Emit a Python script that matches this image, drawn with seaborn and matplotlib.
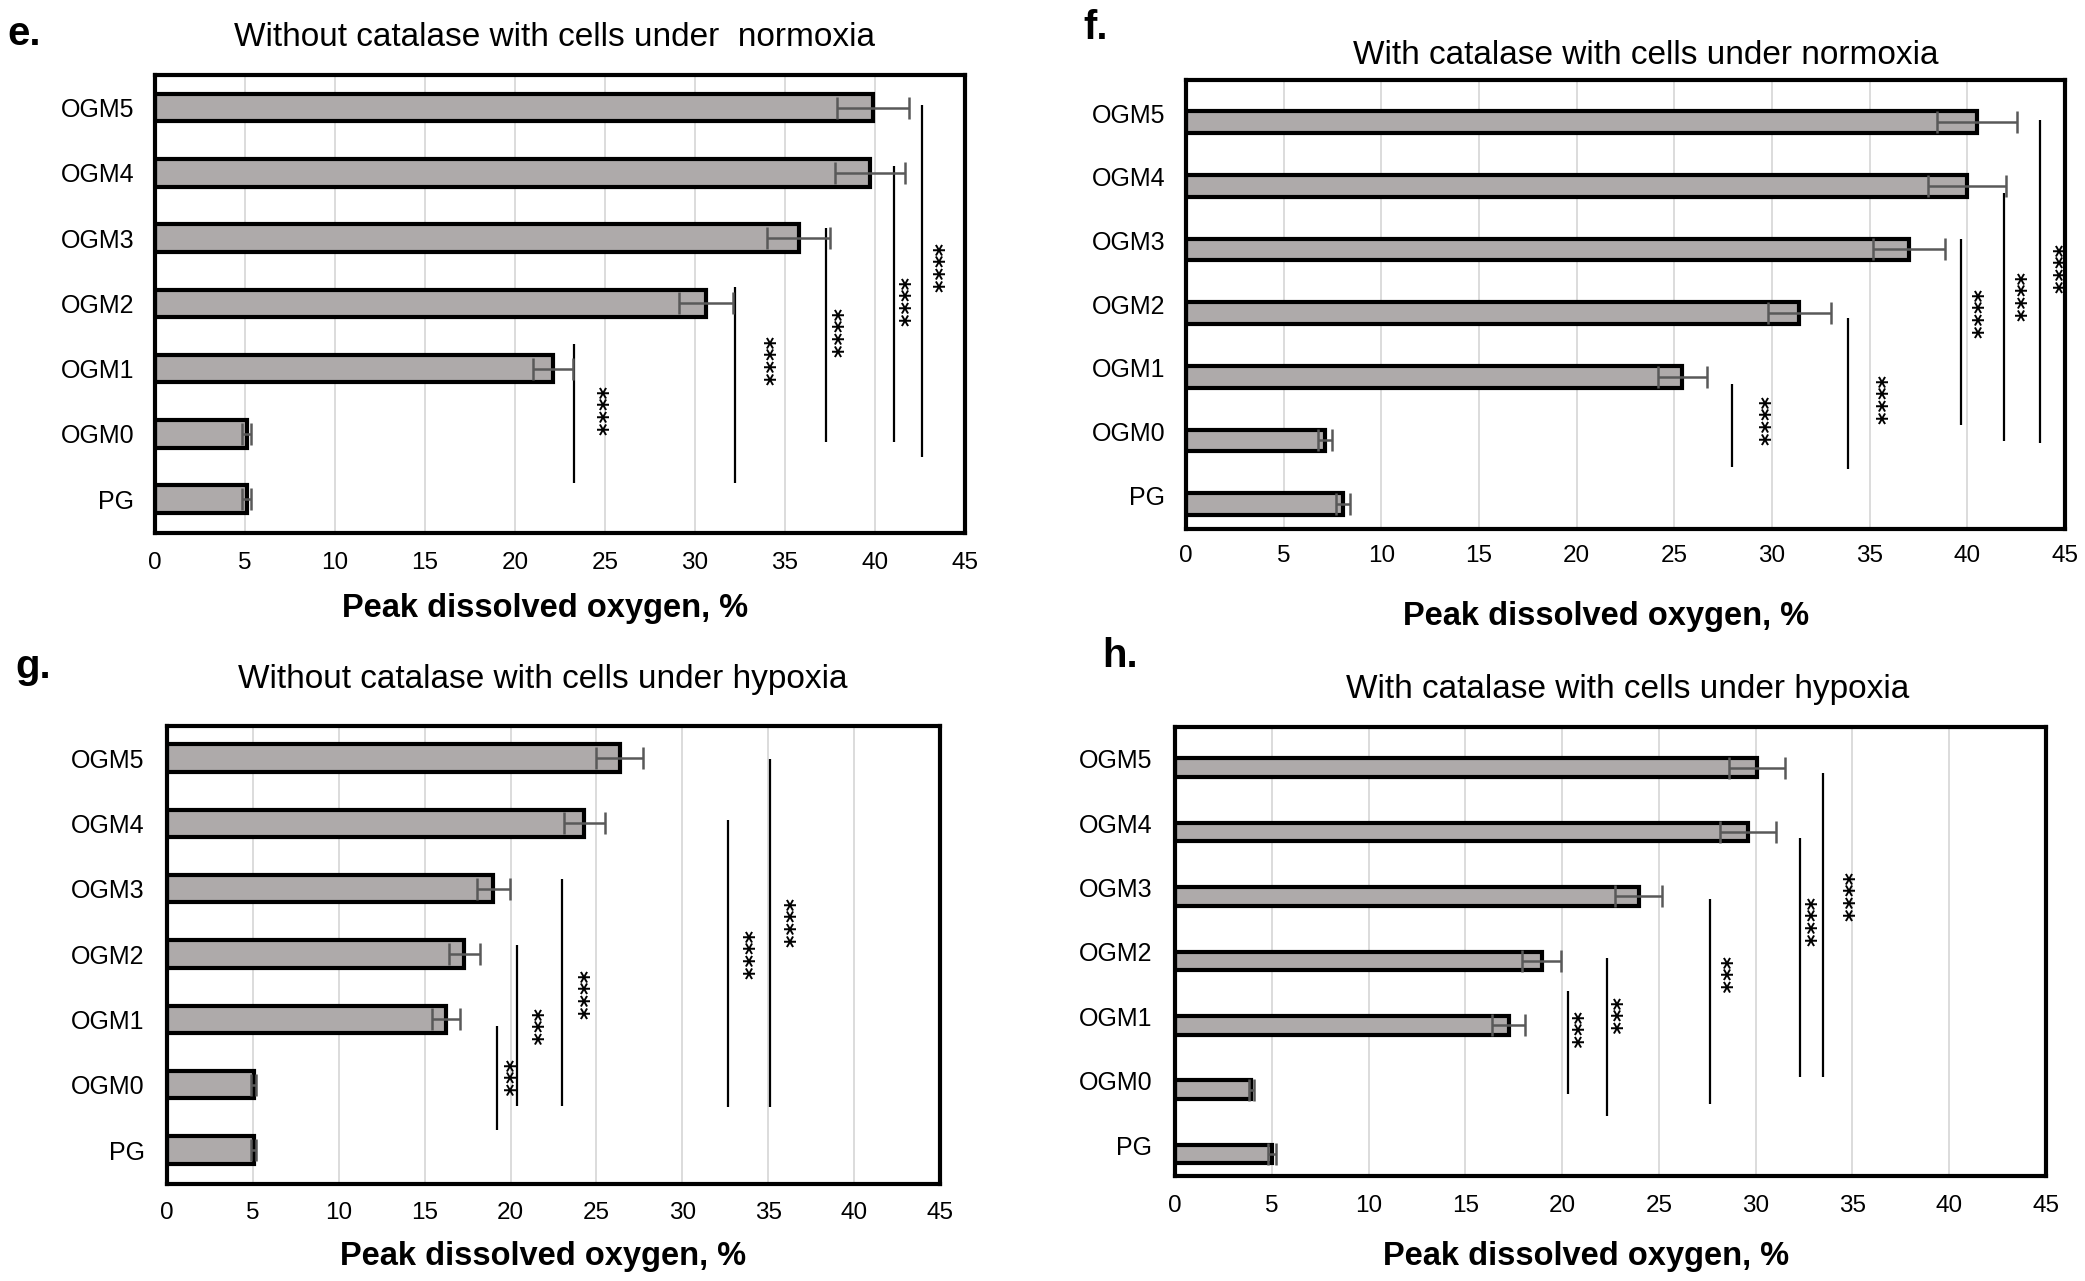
import numpy as np
import pandas as pd
import matplotlib
matplotlib.use("Agg")
import matplotlib.pyplot as plt
import matplotlib.transforms as mtransforms
import seaborn as sns

# ---------------- data ----------------
categories = ["OGM5", "OGM4", "OGM3", "OGM2", "OGM1", "OGM0", "PG"]
xticks = [0, 5, 10, 15, 20, 25, 30, 35, 40, 45]
xlabel = "Peak dissolved oxygen, %"

title_e = "Without catalase with cells under  normoxia"
mean_e = [39.9, 39.7, 35.75, 30.6, 22.1, 5.1, 5.1]
err_e = [2.0, 1.95, 1.75, 1.5, 1.1, 0.25, 0.25]

title_f = "With catalase with cells under normoxia"
mean_f = [40.5, 40.0, 37.0, 31.4, 25.4, 7.1, 8.05]
err_f = [2.05, 2.0, 1.85, 1.6, 1.25, 0.35, 0.35]

title_g = "Without catalase with cells under hypoxia"
mean_g = [26.35, 24.3, 19.0, 17.3, 16.25, 5.05, 5.05]
err_g = [1.35, 1.2, 0.95, 0.9, 0.8, 0.15, 0.15]

title_h = "With catalase with cells under hypoxia"
mean_h = [30.05, 29.6, 23.95, 18.95, 17.25, 3.95, 5.0]
err_h = [1.45, 1.45, 1.2, 1.0, 0.85, 0.15, 0.2]

# significance brackets: (line x, top row, bottom row, star x, star row, label)
sig_e = [(23.25, 3.62, 5.75, 24.85, 4.65, "****"),
         (32.2, 2.75, 5.75, 34.1, 3.88, "****"),
         (37.3, 1.84, 5.12, 37.9, 3.45, "****"),
         (41.05, 0.90, 5.12, 41.6, 2.98, "****"),
         (42.6, -0.04, 5.36, 43.5, 2.46, "****")]
sig_f = [(27.93, 4.11, 5.41, 29.63, 4.69, "****"),
         (33.9, 3.07, 5.45, 35.6, 4.36, "****"),
         (39.7, 1.83, 4.75, 40.5, 3.01, "****"),
         (41.86, 1.11, 5.01, 42.7, 2.75, "****"),
         (43.7, -0.03, 5.04, 44.66, 2.31, "****")]
sig_g = [(19.22, 4.10, 5.69, 19.9, 4.89, "***"),
         (20.38, 2.86, 5.33, 21.5, 4.11, "***"),
         (23.0, 1.85, 5.33, 24.2, 3.63, "****"),
         (32.65, 0.95, 5.34, 33.8, 3.01, "****"),
         (35.1, 0.01, 5.34, 36.2, 2.53, "****")]
sig_h = [(20.28, 3.47, 5.06, 20.76, 4.07, "***"),
         (22.34, 2.96, 5.41, 22.8, 3.85, "***"),
         (27.66, 2.04, 5.22, 28.5, 3.21, "***"),
         (32.3, 1.09, 4.80, 32.8, 2.39, "****"),
         (33.5, 0.08, 4.80, 34.8, 2.01, "****")]

# ---------------- style ----------------
sns.set_theme(style="white")
plt.rcParams['font.family'] = ['Liberation Sans', 'DejaVu Sans']

W, H = 2085, 1281
fig = plt.figure(figsize=(W / 100, H / 100), dpi=100)

BAR_COLOR = "#aeaaaa"
ERR_COLOR = "#595959"


def fx(x):
    return x / W


def fy(y):
    return 1 - y / H


panels = [
    dict(letter="e.", title=title_e, mean=mean_e, err=err_e, sig=sig_e,
         box=(155, 75, 965, 533), margins=(0.50, 0.52), bar_h=0.42,
         title_xy=(555, 46), letter_xy=(7, 45), xlabel_xy=(545, 617),
         ypad=15, xpad=14, shift=0),
    dict(letter="f.", title=title_f, mean=mean_f, err=err_f, sig=sig_f,
         box=(1186, 80, 2065, 529), margins=(0.66, 0.39), bar_h=0.34,
         title_xy=(1646, 64), letter_xy=(1083, 39), xlabel_xy=(1606, 625),
         ypad=15, xpad=11.5, shift=9),
    dict(letter="g.", title=title_g, mean=mean_g, err=err_g, sig=sig_g,
         box=(167, 726, 940, 1184), margins=(0.49, 0.52), bar_h=0.42,
         title_xy=(543, 688), letter_xy=(15, 678), xlabel_xy=(543, 1265),
         ypad=16, xpad=13, shift=0),
    dict(letter="h.", title=title_h, mean=mean_h, err=err_h, sig=sig_h,
         box=(1175, 727, 2046, 1176), margins=(0.63, 0.34), bar_h=0.29,
         title_xy=(1628, 698), letter_xy=(1102, 667), xlabel_xy=(1586, 1265),
         ypad=16.5, xpad=14, shift=9),
]

for p in panels:
    l, t, r, b = p["box"]
    ax = fig.add_axes([fx(l), fy(b), (r - l) / W, (b - t) / H])
    df = pd.DataFrame({"group": categories, "value": p["mean"]})
    sns.barplot(data=df, x="value", y="group", orient="h", order=categories,
                color=BAR_COLOR, saturation=1, edgecolor="black",
                linewidth=3.0, width=p["bar_h"], errorbar=None, ax=ax, zorder=2)
    pos = np.arange(len(categories))
    ax.errorbar(p["mean"], pos, xerr=p["err"], fmt="none", ecolor=ERR_COLOR,
                elinewidth=1.8, capsize=8, capthick=1.8, zorder=4)

    # x offset (in data units) that centres the raised asterisk glyphs on sx
    star_off = 0.3
    for (lx, top, bot, sx, sy, lab) in p["sig"]:
        ax.plot([lx, lx], [top, bot], color="black", lw=1.6, zorder=3,
                solid_capstyle="butt")
        ax.text(sx - star_off, sy, lab, rotation=270, ha="center", va="center",
                fontsize=17, fontweight="bold", color="black", zorder=3,
                family="DejaVu Sans")

    ax.set_xlim(0, 45)
    top_m, bot_m = p["margins"]
    ax.set_ylim(len(categories) - 1 + bot_m, -top_m)
    ax.set_xticks(xticks)
    ax.set_xticklabels([str(v) for v in xticks])
    ax.xaxis.grid(True, color="#d9d9d9", lw=1.3)
    ax.yaxis.grid(False)
    ax.set_axisbelow(True)
    for s in ax.spines.values():
        s.set_visible(True)
        s.set_color("black")
        s.set_linewidth(3.0)
    ax.tick_params(axis="y", length=0, pad=p["ypad"], labelsize=18, colors="black")
    ax.tick_params(axis="x", length=0, pad=p["xpad"], labelsize=17.5, colors="black")
    ax.set_ylabel("")
    if p["shift"]:
        off = mtransforms.ScaledTranslation(0, p["shift"] / 100, fig.dpi_scale_trans)
        for lab in ax.get_yticklabels():
            lab.set_transform(lab.get_transform() + off)

    ax.set_xlabel(xlabel, fontsize=23.5, fontweight="bold", color="black", va="baseline")
    ax.xaxis.set_label_coords(fx(p["xlabel_xy"][0]), fy(p["xlabel_xy"][1]),
                              transform=fig.transFigure)

    tx, ty = p["title_xy"]
    ax.set_title(p["title"], fontsize=24, color="black", pad=0,
                 x=(tx - l) / (r - l), y=(b - ty) / (b - t), va="baseline")

    lx0, ly0 = p["letter_xy"]
    fig.text(fx(lx0), fy(ly0), p["letter"], fontsize=29, fontweight="bold",
             ha="left", va="baseline", color="black")

fig.savefig("out.png", dpi=100, facecolor="white")
